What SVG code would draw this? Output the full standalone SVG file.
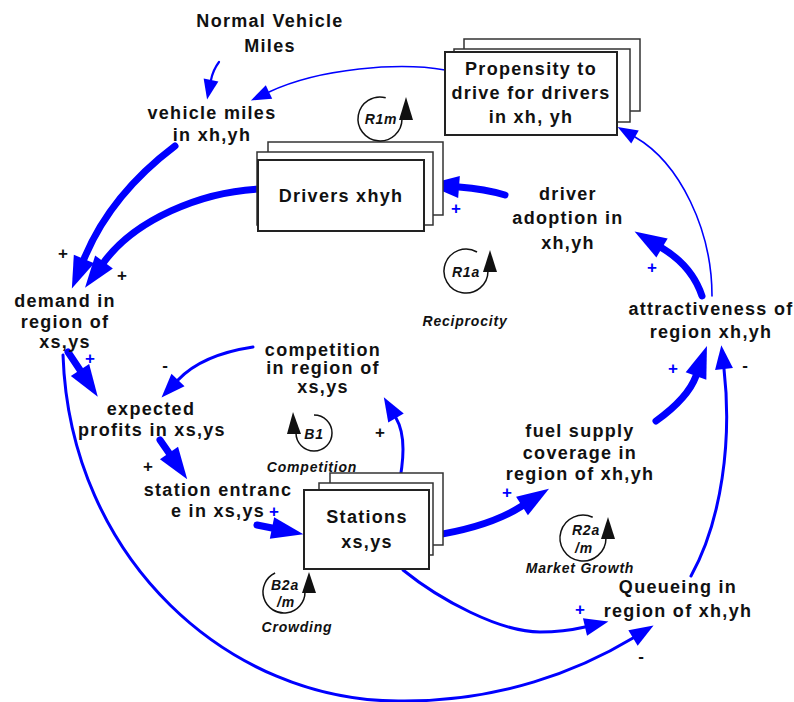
<svg xmlns="http://www.w3.org/2000/svg" width="794" height="702" viewBox="0 0 794 702">
  <style>
    .lbl { font-family: "Liberation Sans", Arial, sans-serif; font-weight: bold; font-size: 18px; letter-spacing: 1.3px; fill: #111; text-anchor: middle; }
    .loop { font-family: "Liberation Sans", Arial, sans-serif; font-weight: bold; font-style: italic; font-size: 14px; letter-spacing: 0.8px; fill: #111; text-anchor: middle; }
    .sign { font-family: "Liberation Sans", Arial, sans-serif; font-weight: bold; font-size: 17px; text-anchor: middle; }
    .pos { fill: #0000ff; }
    .blk { fill: #111; }
    .box { fill: #fff; stroke: #222; stroke-width: 2; }
    .boxb { fill: #fff; stroke: #333; stroke-width: 1.5; }
    .arc { fill: none; stroke: #111; stroke-width: 1.5; }
    .head { fill: #111; }
    .lk { fill: none; stroke: #0000ff; stroke-linecap: round; }
    .thin { stroke-width: 1.6; }
    .w2 { stroke-width: 2.2; }
    .mid { stroke-width: 3; }
    .thick { stroke-width: 7; }
  </style>
  <defs>
    <marker id="hBig" markerUnits="userSpaceOnUse" viewBox="0 -12 34 24" markerWidth="34" markerHeight="24" refX="0" refY="0" orient="auto" overflow="visible">
      <path d="M0,-11 L32,0 L0,11 Z" fill="#0000ff"/>
    </marker>
    <marker id="hMid" markerUnits="userSpaceOnUse" viewBox="0 -10 26 20" markerWidth="26" markerHeight="20" refX="0" refY="0" orient="auto" overflow="visible">
      <path d="M0,-9 L24,0 L0,9 Z" fill="#0000ff"/>
    </marker>
    <marker id="hSmall" markerUnits="userSpaceOnUse" viewBox="0 -8 22 16" markerWidth="22" markerHeight="16" refX="0" refY="0" orient="auto" overflow="visible">
      <path d="M0,-7.5 L20,0 L0,7.5 Z" fill="#0000ff"/>
    </marker>
  </defs>

  <rect width="794" height="702" fill="#fff"/>

  <!-- causal links -->
  <g id="links">
    <path class="lk w2" d="M219,62 Q213,70 211,80" marker-end="url(#hSmall)"/>
    <path class="lk thin" d="M445,70 C400,62 320,68 269,92" marker-end="url(#hSmall)"/>
    <path class="lk thick" d="M175,146 C130,180 100,220 84,259" marker-end="url(#hBig)"/>
    <path class="lk thick" d="M259,189 C200,192 135,220 104,262" marker-end="url(#hBig)"/>
    <path class="lk thick" d="M505,195 Q485,189 459,187" marker-end="url(#hBig)"/>
    <path class="lk thick" d="M702,296 Q692,266 662,248" marker-end="url(#hBig)"/>
    <path class="lk thin" d="M712,296 C712,230 680,163 635,137" marker-end="url(#hSmall)"/>
    <path class="lk thick" d="M656,421 Q688,398 696,376" marker-end="url(#hBig)"/>
    <path class="lk mid" d="M691,576 C722,520 732,440 724,369" marker-end="url(#hMid)"/>
    <path class="lk thick" d="M430,536 C470,530 500,520 522,506" marker-end="url(#hBig)"/>
    <path class="lk mid" d="M398,490 C404,460 406,435 396,418" marker-end="url(#hMid)"/>
    <path class="lk mid" d="M253,347 C220,352 195,362 178,380" marker-end="url(#hMid)"/>
    <path class="lk thick" d="M68,352 L80,370" marker-end="url(#hBig)"/>
    <path class="lk thick" d="M160,440 L169,453" marker-end="url(#hBig)"/>
    <path class="lk thick" d="M257,525 L272,528" marker-end="url(#hBig)"/>
    <path class="lk mid" d="M63,355 C70,560 230,702 400,701 C500,702 580,670 633,638" marker-end="url(#hMid)"/>
    <path class="lk mid" d="M403,570 C440,600 500,632 540,632 C560,632 572,630 585,627" marker-end="url(#hMid)"/>
  </g>

  <!-- link polarities -->
  <g id="polarities">
    <text class="sign blk" x="63" y="259">+</text>
    <text class="sign blk" x="122" y="281">+</text>
    <text class="sign pos" x="90" y="364">+</text>
    <text class="sign blk" x="165" y="371">-</text>
    <text class="sign blk" x="148" y="472">+</text>
    <text class="sign pos" x="274" y="517">+</text>
    <text class="sign blk" x="380" y="438">+</text>
    <text class="sign pos" x="507" y="498">+</text>
    <text class="sign pos" x="580" y="615">+</text>
    <text class="sign blk" x="641" y="662">-</text>
    <text class="sign pos" x="673" y="374">+</text>
    <text class="sign blk" x="745" y="371">-</text>
    <text class="sign pos" x="652" y="273">+</text>
    <text class="sign pos" x="456" y="214">+</text>
  </g>

  <!-- variables -->
  <g id="normal-vehicle-miles">
    <text class="lbl" x="270" y="27">Normal Vehicle</text>
    <text class="lbl" x="270" y="52">Miles</text>
  </g>
  <g id="vehicle-miles">
    <text class="lbl" x="212" y="119">vehicle miles</text>
    <text class="lbl" x="212" y="141">in xh,yh</text>
  </g>
  <g id="propensity">
    <rect class="boxb" x="464" y="39" width="176" height="72"/>
    <rect class="boxb" x="454" y="49" width="176" height="73"/>
    <rect class="box" x="445" y="52" width="172" height="83"/>
    <text class="lbl" x="531" y="75">Propensity to</text>
    <text class="lbl" x="531" y="99">drive for drivers</text>
    <text class="lbl" x="531" y="123">in xh, yh</text>
  </g>
  <g id="drivers">
    <rect class="boxb" x="268" y="142" width="175" height="73"/>
    <rect class="boxb" x="257" y="152" width="176" height="73"/>
    <rect class="box" x="258" y="160" width="166" height="71"/>
    <text class="lbl" x="341" y="202">Drivers xhyh</text>
  </g>
  <g id="driver-adoption">
    <text class="lbl" x="568" y="200">driver</text>
    <text class="lbl" x="568" y="224">adoption in</text>
    <text class="lbl" x="568" y="249">xh,yh</text>
  </g>
  <g id="demand">
    <text class="lbl" x="65" y="307">demand in</text>
    <text class="lbl" x="65" y="328">region of</text>
    <text class="lbl" x="65" y="348">xs,ys</text>
  </g>
  <g id="competition">
    <text class="lbl" x="323" y="356">competition</text>
    <text class="lbl" x="323" y="374">in region of</text>
    <text class="lbl" x="323" y="393">xs,ys</text>
  </g>
  <g id="expected-profits">
    <text class="lbl" x="151" y="415">expected</text>
    <text class="lbl" x="152" y="436">profits in xs,ys</text>
  </g>
  <g id="station-entrance">
    <text class="lbl" x="218" y="496">station entranc</text>
    <text class="lbl" x="218" y="517">e in xs,ys</text>
  </g>
  <g id="stations">
    <rect class="boxb" x="330" y="473" width="113" height="72"/>
    <rect class="boxb" x="319" y="483" width="114" height="72"/>
    <rect class="box" x="304" y="490" width="125" height="79"/>
    <text class="lbl" x="367" y="523">Stations</text>
    <text class="lbl" x="367" y="548">xs,ys</text>
  </g>
  <g id="attractiveness">
    <text class="lbl" x="711" y="315">attractiveness of</text>
    <text class="lbl" x="711" y="338">region xh,yh</text>
  </g>
  <g id="fuel-supply">
    <text class="lbl" x="580" y="437">fuel supply</text>
    <text class="lbl" x="580" y="459">coverage in</text>
    <text class="lbl" x="580" y="480">region of xh,yh</text>
  </g>
  <g id="queueing">
    <text class="lbl" x="678" y="593">Queueing in</text>
    <text class="lbl" x="678" y="617">region of xh,yh</text>
  </g>

  <!-- loop identifiers -->
  <g id="loop-R1m">
    <path class="arc" d="M385.7,97.7 A22,22 0 1 0 402,119"/>
    <polygon class="head" points="406,97 399,120 413,120"/>
    <text class="loop" x="381" y="124">R1m</text>
  </g>
  <g id="loop-R1a">
    <path class="arc" d="M477,252 A22,22 0 1 0 488,271"/>
    <polygon class="head" points="490,250 483,272 497,272"/>
    <text class="loop" x="466" y="277">R1a</text>
    <text class="loop" x="465" y="326">Reciprocity</text>
  </g>
  <g id="loop-B1">
    <path class="arc" d="M314,415 A18,18 0 1 1 296,433"/>
    <polygon class="head" points="293,412 287,434 301,434"/>
    <text class="loop" x="314" y="439">B1</text>
    <text class="loop" x="312" y="472">Competition</text>
  </g>
  <g id="loop-B2a">
    <path class="arc" d="M275.1,573 A21,21 0 1 0 305,592"/>
    <polygon class="head" points="309,572 302,593 316,593"/>
    <text class="loop" x="285" y="590">B2a</text>
    <text class="loop" x="286" y="607">/m</text>
    <text class="loop" x="297" y="632">Crowding</text>
  </g>
  <g id="loop-R2a">
    <path class="arc" d="M592.7,517.2 A23,23 0 1 0 606,538"/>
    <polygon class="head" points="608,517 601,539 615,539"/>
    <text class="loop" x="586" y="535">R2a</text>
    <text class="loop" x="584" y="553">/m</text>
    <text class="loop" x="580" y="573">Market Growth</text>
  </g>
</svg>
